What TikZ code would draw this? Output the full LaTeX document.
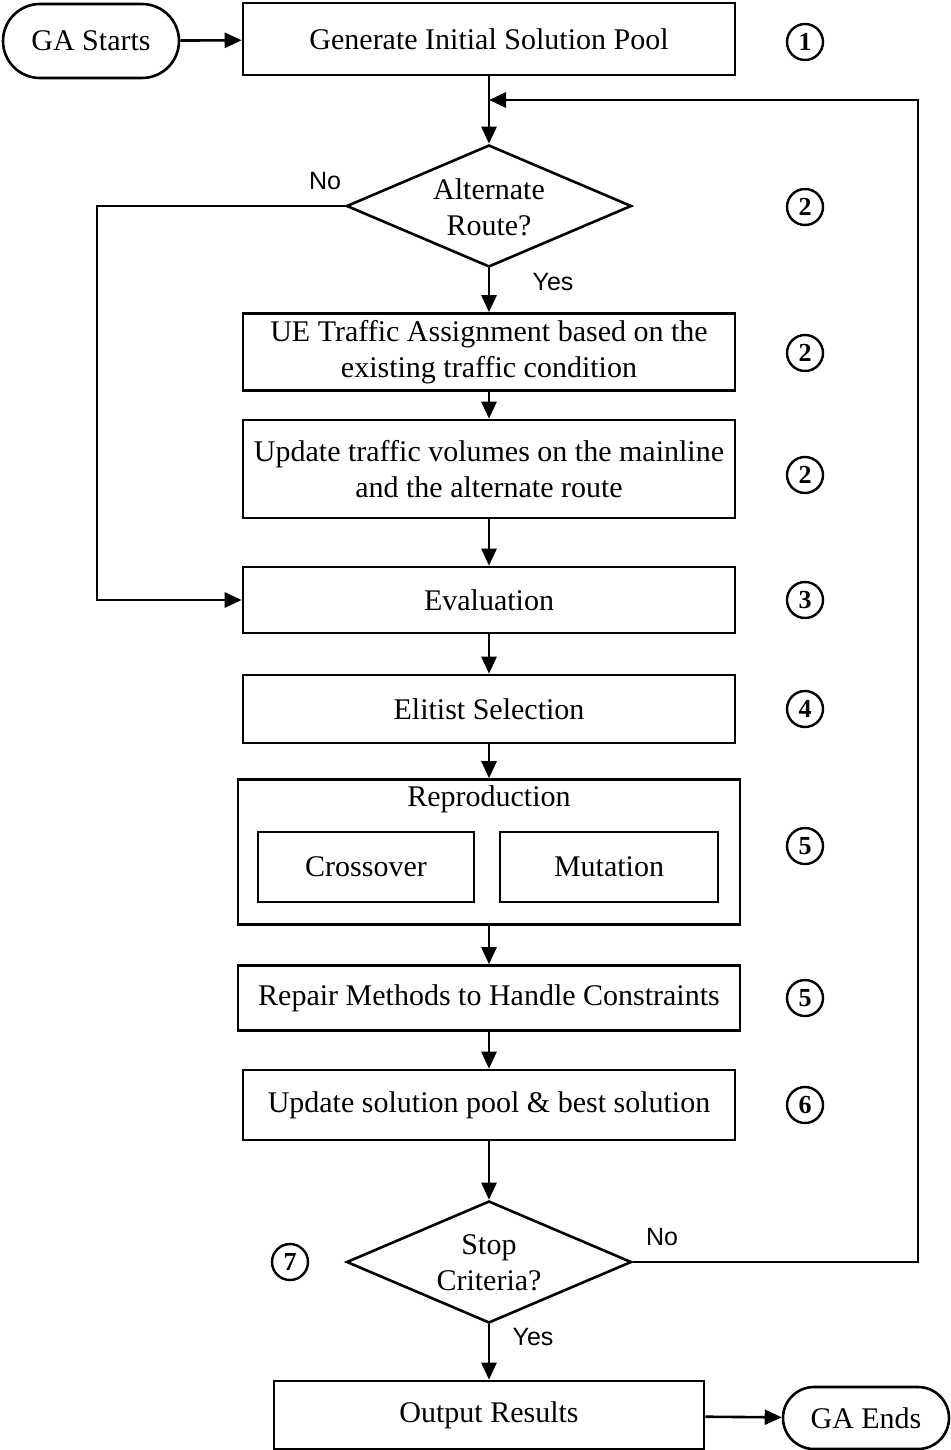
\documentclass[tikz,border=0pt]{standalone}
\usepackage{fontspec}
\setmainfont{Liberation Serif}
\newfontfamily\lblfont{Liberation Sans}
\usetikzlibrary{arrows.meta,shapes.geometric,shapes.misc}
\begin{document}
\begin{tikzpicture}[x=0.5pt,y=-0.5pt,
  every node/.style={font=\fontsize{15}{18}\selectfont},
  proc/.style={draw,line width=1.3pt,minimum width=246pt,inner sep=0pt,align=center},
  pill/.style={draw,line width=1.3pt,rounded rectangle,inner sep=0pt},
  dec/.style={draw,line width=1.3pt,diamond,minimum width=142.5pt,minimum height=61pt,inner sep=0pt},
  num/.style={draw,line width=1.2pt,circle,minimum size=18pt,inner sep=0pt,font=\fontsize{13}{14}\selectfont\bfseries},
  lbl/.style={font=\lblfont\fontsize{12.5}{14}\selectfont},
  arr/.style={line width=1.3pt,-{Triangle[length=8.5pt,width=7.5pt]}},
  ln/.style={line width=1.3pt}
]
\useasboundingbox (0,0) rectangle (950,1450);

\node[pill,minimum width=88pt,minimum height=37pt] (start) at (91,41) {GA Starts};
\node[proc,minimum height=36pt] (gen) at (489,39) {Generate Initial Solution Pool};
\node[num] (n1) at (805,42) {1};

\coordinate (loopin) at (489,100);
\node[dec] (alt) at (489,206) {};
\node[align=center] (alttxt) at (489,207) {Alternate\\Route?};
\node[num] (n2a) at (805,207) {2};
\node[lbl] (altno) at (325,181) {No};
\node[lbl] (altyes) at (553,282) {Yes};

\node[proc,minimum height=38.5pt] (ue) at (489,352) {UE Traffic Assignment based on the\\existing traffic condition};
\node[num] (n2b) at (805,353) {2};

\node[proc,minimum height=49pt] (upd) at (489,469) {Update traffic volumes on the mainline\\and the alternate route};
\node[num] (n2c) at (805,475) {2};

\node[proc,minimum height=33pt] (eval) at (489,600) {Evaluation};
\node[num] (n3) at (805,600) {3};

\node[proc,minimum height=34pt] (elit) at (489,709) {Elitist Selection};
\node[num] (n4) at (805,709) {4};

\node[draw,line width=1.3pt,minimum width=251pt,minimum height=72.5pt,inner sep=0pt] (rep) at (489,852) {};
\node (reptxt) at (489,799) {Reproduction};
\node[draw,line width=1.3pt,minimum width=108pt,minimum height=35pt,inner sep=0pt] (cross) at (366,867) {Crossover};
\node[draw,line width=1.3pt,minimum width=109pt,minimum height=35pt,inner sep=0pt] (mut) at (609,867) {Mutation};
\node[num] (n5a) at (805,846) {5};

\node[draw,line width=1.3pt,minimum width=251pt,minimum height=32.5pt,inner sep=0pt] (repair) at (489,998) {Repair Methods to Handle Constraints};
\node[num] (n5b) at (805,998) {5};

\node[proc,minimum height=35pt] (pool) at (489,1105) {Update solution pool \& best solution};
\node[num] (n6) at (805,1105) {6};

\node[dec] (stop) at (489,1262) {};
\node[align=center] (stoptxt) at (489,1263) {Stop\\Criteria?};
\node[num] (n7) at (290,1262) {7};
\node[lbl] (stopno) at (662,1237) {No};
\node[lbl] (stopyes) at (533,1337) {Yes};

\node[draw,line width=1.3pt,minimum width=215pt,minimum height=34pt,inner sep=0pt] (out) at (489,1415) {Output Results};
\node[pill,minimum width=83pt,minimum height=31pt] (end) at (866,1418) {GA Ends};

\draw[arr] (start) -- (gen);
\draw[arr] (gen) -- (alt);
\draw[arr] (alt) -- (ue);
\draw[arr] (ue) -- (upd);
\draw[arr] (upd) -- (eval);
\draw[arr] (eval) -- (elit);
\draw[arr] (elit) -- (rep);
\draw[arr] (rep) -- (repair);
\draw[arr] (repair) -- (pool);
\draw[arr] (pool) -- (stop);
\draw[arr] (stop) -- (out);
\draw[arr] (out) -- (end);
\draw[arr] (alt.west) -- (97,206) |- (eval.west);
\draw[arr] (stop.east) -- (918,1262) -- (918,100) -- (loopin);
\end{tikzpicture}
\end{document}
